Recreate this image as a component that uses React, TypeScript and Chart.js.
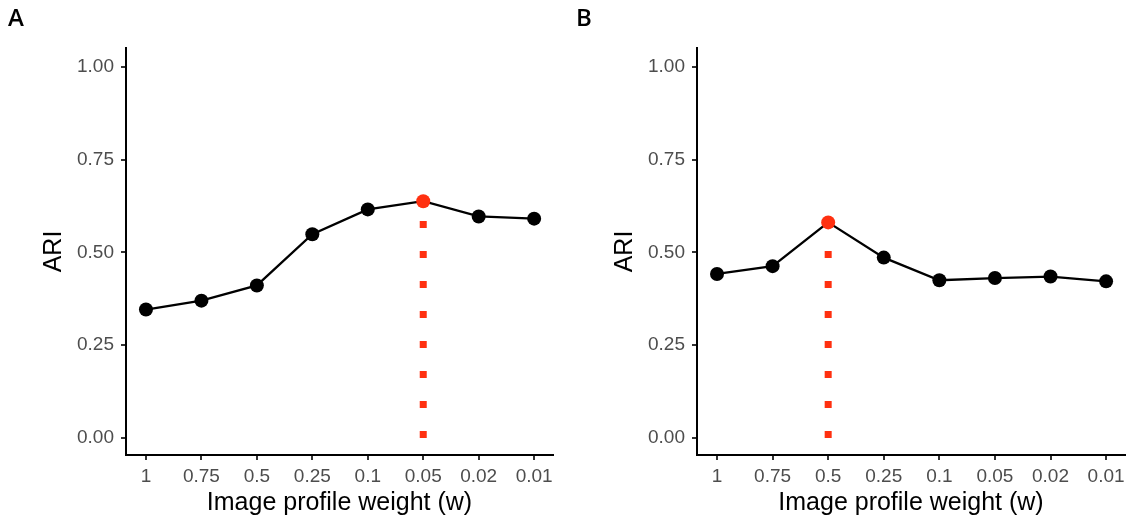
import React, { useEffect, useRef } from "react";
import { Chart, registerables } from "chart.js";

Chart.register(...registerables);

const CATEGORIES = ["1", "0.75", "0.5", "0.25", "0.1", "0.05", "0.02", "0.01"];
const ARI_A = [0.346, 0.370, 0.411, 0.549, 0.616, 0.638, 0.597, 0.591];
const ARI_B = [0.442, 0.463, 0.581, 0.486, 0.425, 0.431, 0.435, 0.422];
const PEAK_A = 5;
const PEAK_B = 2;
const Y_TICKS = [0, 0.25, 0.5, 0.75, 1.0];
const X_TITLE = "Image profile weight (w)";
const Y_TITLE = "ARI";

const RED = "#FF3010";
const TICK_COLOR = "#4D4D4D";
const FONT = "'Liberation Sans', Arial, sans-serif";

type PanelProps = {
  letter: string;
  values: number[];
  peak: number;
  padLeft: number;
  padRight: number;
  yWidth: number;
  yTitlePad: number;
  left: number;
};

function Panel({ letter, values, peak, padLeft, padRight, yWidth, yTitlePad, left }: PanelProps) {
  const ref = useRef<HTMLCanvasElement | null>(null);
  useEffect(() => {
    if (!ref.current) return;
    const chart = new Chart(ref.current, {
      type: "line",
      data: {
        datasets: [
          {
            data: values.map((v, i) => ({ x: i, y: v })),
            borderColor: "#000000",
            borderWidth: 2.3,
            pointRadius: 7,
            pointHoverRadius: 7,
            pointBorderWidth: 0,
            pointBackgroundColor: values.map((_, i) => (i === peak ? RED : "#000000")),
            pointBorderColor: values.map((_, i) => (i === peak ? RED : "#000000")),
            tension: 0,
            order: 1,
          },
          {
            data: [
              { x: peak, y: 0 },
              { x: peak, y: values[peak] },
            ],
            borderColor: RED,
            borderWidth: 7,
            borderDash: [7, 23],
            borderCapStyle: "butt",
            pointRadius: 0,
            pointHoverRadius: 0,
            order: 2,
          },
        ],
      },
      options: {
        animation: false,
        responsive: false,
        devicePixelRatio: 1,
        layout: { padding: { left: padLeft, right: padRight, top: 0, bottom: 0 } },
        plugins: {
          legend: { display: false },
          tooltip: { enabled: false },
          title: {
            display: true,
            text: letter,
            align: "start",
            color: "#000000",
            font: { family: "'Open Sans', sans-serif", size: 24, weight: "600", lineHeight: 1.2 },
            padding: { top: 5, bottom: 14.2 },
          },
        },
        scales: {
          x: {
            type: "linear",
            min: -0.36,
            max: 7.34,
            afterBuildTicks: (s: any) => {
              s.ticks = CATEGORIES.map((_, i) => ({ value: i }));
            },
            afterFit: (s: any) => {
              s.height = 70;
              s.paddingLeft = 0;
              s.paddingRight = 0;
            },
            ticks: {
              callback: (v: any) => CATEGORIES[Math.round(Number(v))],
              color: TICK_COLOR,
              font: { family: FONT, size: 19 },
              padding: 5,
              autoSkip: false,
              maxRotation: 0,
              minRotation: 0,
            },
            grid: {
              display: true,
              drawOnChartArea: false,
              drawTicks: true,
              tickLength: 5,
              tickColor: "#333333",
              tickWidth: 2,
              lineWidth: 2,
            },
            border: { display: true, color: "#000000", width: 2 },
            title: {
              display: true,
              text: X_TITLE,
              color: "#000000",
              font: { family: FONT, size: 25, lineHeight: 1.2 },
              padding: { top: 0, bottom: 7 },
            },
          },
          y: {
            type: "linear",
            min: -0.046,
            max: 1.051,
            afterBuildTicks: (s: any) => {
              s.ticks = Y_TICKS.map((v) => ({ value: v }));
            },
            afterFit: (s: any) => {
              s.width = yWidth;
              s.paddingTop = 0;
              s.paddingBottom = 0;
            },
            ticks: {
              callback: (v: any) => Number(v).toFixed(2),
              color: TICK_COLOR,
              font: { family: FONT, size: 19 },
              padding: 7,
              autoSkip: false,
            },
            grid: {
              display: true,
              drawOnChartArea: false,
              drawTicks: true,
              tickLength: 5,
              tickColor: "#333333",
              tickWidth: 2,
              lineWidth: 2,
            },
            border: { display: true, color: "#000000", width: 2 },
            title: {
              display: true,
              text: Y_TITLE,
              color: "#000000",
              font: { family: FONT, size: 25, lineHeight: 1.2 },
              padding: { top: yTitlePad, bottom: 0 },
            },
          },
        },
      } as any,
    });
    return () => chart.destroy();
  }, []);
  return (
    <div style={{ position: "absolute", left, top: 0, width: 566, height: 525 }}>
      <canvas ref={ref} width={566} height={525} style={{ display: "block" }} />
    </div>
  );
}

export default function App() {
  useEffect(() => {
    document.body.style.margin = "0";
    document.body.style.background = "#ffffff";
  }, []);
  return (
    <div style={{ position: "relative", width: 1132, height: 525, background: "#ffffff", overflow: "hidden" }}>
      <Panel letter="A" values={ARI_A} peak={PEAK_A} padLeft={8} padRight={13} yWidth={118} yTitlePad={31} left={0} />
      <Panel letter="B" values={ARI_B} peak={PEAK_B} padLeft={10} padRight={7} yWidth={121} yTitlePad={34} left={566} />
    </div>
  );
}
